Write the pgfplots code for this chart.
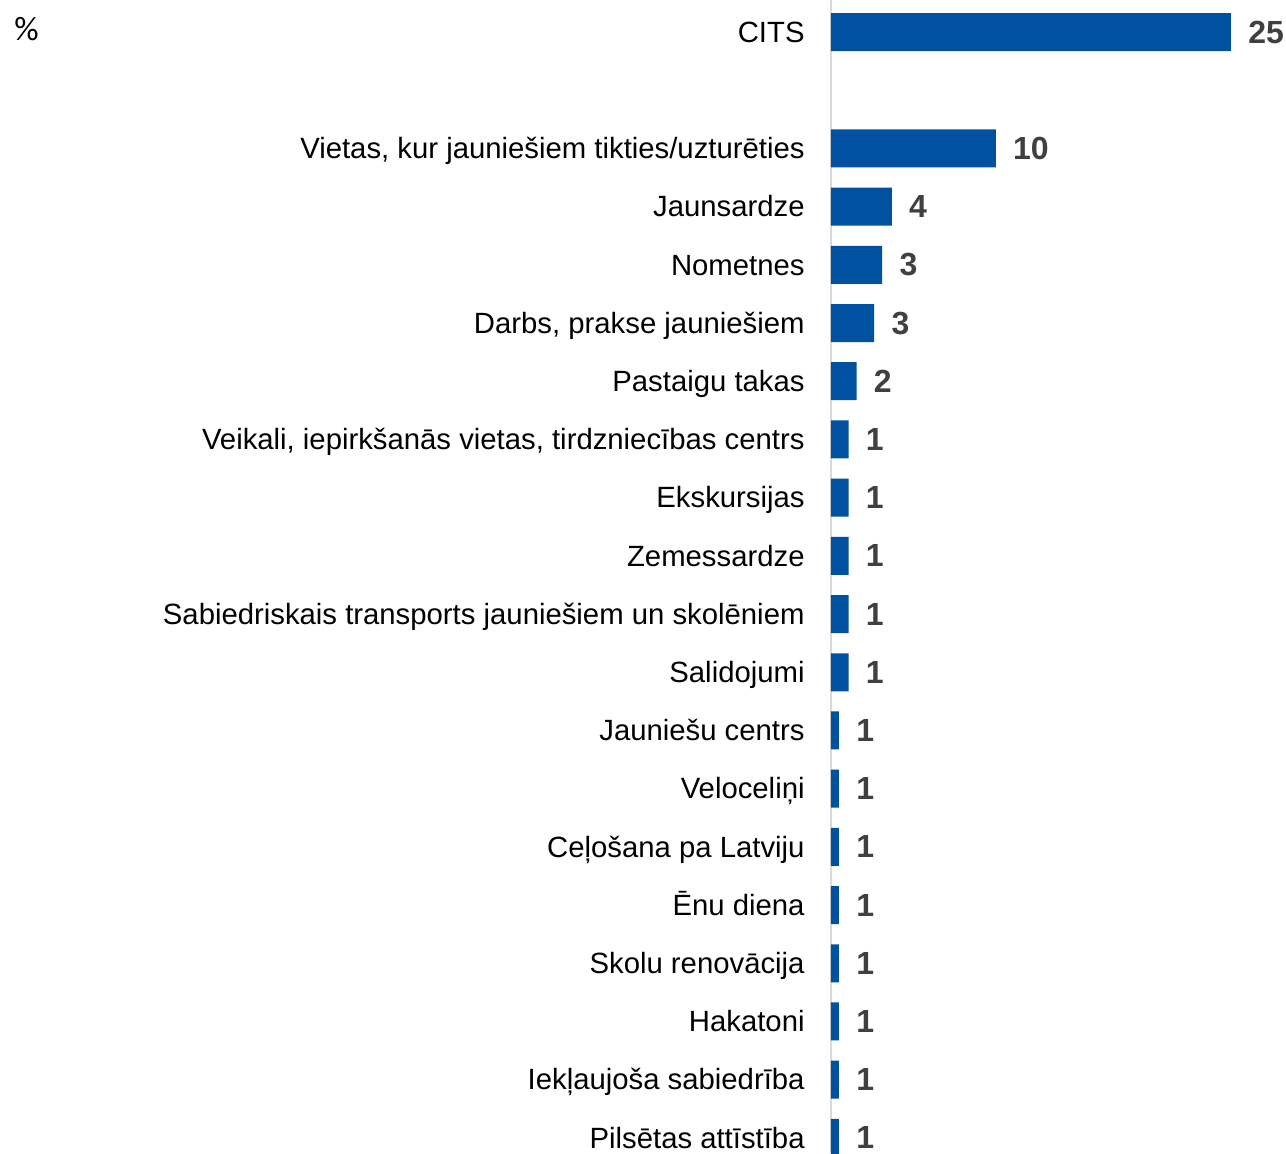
\documentclass[border=0pt]{standalone}
\usepackage{fontspec}
\setmainfont{Liberation Sans}
\newfontfamily\calib{Carlito}
\usepackage{pgfplots}
\usepackage{pgfplotstable}
\pgfplotsset{compat=1.18}
\definecolor{barblue}{RGB}{0,82,160}
\definecolor{lblgray}{RGB}{64,64,64}
\definecolor{axgray}{RGB}{217,217,217}
\pgfplotstableread[col sep=comma]{
y,x,lab
0,25,25
2,10.3,10
3,3.8,4
4,3.2,3
5,2.7,3
6,1.6,2
7,1.1,1
8,1.1,1
9,1.1,1
10,1.1,1
11,1.1,1
12,0.5,1
13,0.5,1
14,0.5,1
15,0.5,1
16,0.5,1
17,0.5,1
18,0.5,1
19,0.5,1
}\datatable
\begin{document}
\begin{tikzpicture}
\begin{axis}[
  scale only axis,
  clip=false,
  width=227.5pt, height=576.5pt,
  xbar, bar width=19pt,
  xmin=0, xmax=28.44,
  ymin=-0.55, ymax=19.26,
  y dir=reverse,
  axis y line*=left,
  axis x line=none,
  y axis line style={draw=axgray, line width=1pt, -},
  ytick={0,2,3,4,5,6,7,8,9,10,11,12,13,14,15,16,17,18,19},
  yticklabels={CITS,{Vietas, kur jauniešiem tikties/uzturēties},Jaunsardze,Nometnes,{Darbs, prakse jauniešiem},Pastaigu takas,{Veikali, iepirkšanās vietas, tirdzniecības centrs},Ekskursijas,Zemessardze,Sabiedriskais transports jauniešiem un skolēniem,Salidojumi,Jauniešu centrs,Veloceliņi,Ceļošana pa Latviju,Ēnu diena,Skolu renovācija,Hakatoni,Iekļaujoša sabiedrība,Pilsētas attīstība},
  major tick length=0pt,
  yticklabel style={font=\fontsize{14.65}{17}\selectfont, text=black, inner sep=0pt, anchor=base east, xshift=-13pt, yshift=-5.1pt},
  point meta=explicit symbolic,
  nodes near coords,
  nodes near coords style={font=\fontsize{16}{19}\selectfont\bfseries, text=lblgray, anchor=west, inner sep=0pt, xshift=8.5pt},
]
\addplot[draw=none, fill=barblue] table[x=x, y=y, meta=lab] {\datatable};
\node[anchor=north west, inner sep=0pt, font=\calib\fontsize{17}{20}\selectfont] at (axis cs:-51.06,-0.258) {\%};
\end{axis}
\pgfresetboundingbox
\path[use as bounding box] ([xshift=-415.5pt]current axis.south west) rectangle (current axis.north east);
\end{tikzpicture}
\end{document}
